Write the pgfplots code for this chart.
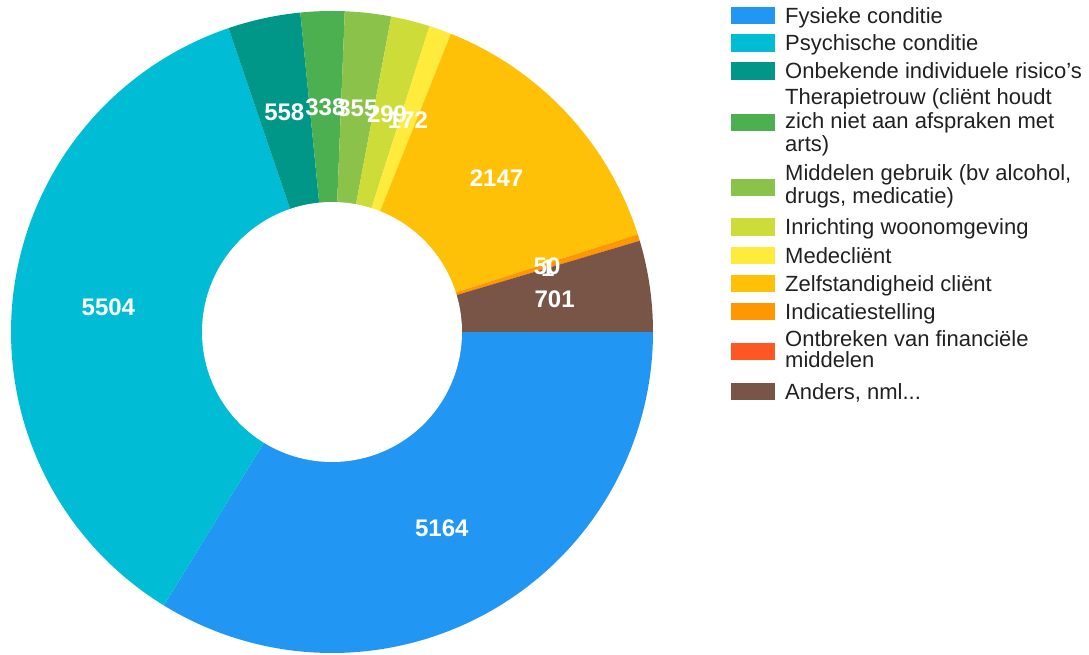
\documentclass[border=0pt]{standalone}
\usepackage{pgfplots}
\pgfplotsset{compat=1.18}
\usepackage{pgfplotstable}
\usepackage{fontspec}
\setmainfont{Liberation Sans}

\definecolor{c0}{HTML}{2196F3}
\definecolor{c1}{HTML}{00BCD4}
\definecolor{c2}{HTML}{009688}
\definecolor{c3}{HTML}{4CAF50}
\definecolor{c4}{HTML}{8BC34A}
\definecolor{c5}{HTML}{CDDC39}
\definecolor{c6}{HTML}{FFEB3B}
\definecolor{c7}{HTML}{FFC107}
\definecolor{c8}{HTML}{FF9800}
\definecolor{c9}{HTML}{FF5722}
\definecolor{c10}{HTML}{795548}
\definecolor{legtext}{HTML}{212121}

\pgfplotstableread[col sep=semicolon]{
name;value
Fysieke conditie;5164
Psychische conditie;5504
Onbekende individuele risicos;558
Therapietrouw;338
Middelen gebruik;355
Inrichting woonomgeving;299
Medeclient;172
Zelfstandigheid client;2147
Indicatiestelling;50
Ontbreken van financiele middelen;1
Anders;701
}\slices

% total of all values
\xdef\cum{0}%
\pgfplotstableforeachcolumnelement{value}\of\slices\as\v{%
  \pgfmathsetmacro\tmp{\cum+\v}\xdef\cum{\tmp}}%
\xdef\total{\cum}%
% angles of each slice (clockwise from 3 o'clock)
\xdef\cum{0}%
\pgfplotstableforeachcolumnelement{value}\of\slices\as\v{%
  \pgfmathsetmacro\ta{-(\cum+\v)/\total*360}%
  \pgfmathsetmacro\tb{-\cum/\total*360}%
  \pgfmathsetmacro\tm{(\ta+\tb)/2}%
  \expandafter\xdef\csname lo\pgfplotstablerow\endcsname{\ta}%
  \expandafter\xdef\csname hi\pgfplotstablerow\endcsname{\tb}%
  \expandafter\xdef\csname mid\pgfplotstablerow\endcsname{\tm}%
  \expandafter\xdef\csname val\pgfplotstablerow\endcsname{\v}%
  \pgfmathsetmacro\tmp{\cum+\v}\xdef\cum{\tmp}}%

\newcommand\legsq[2]{\fill[#1] (axis cs:731,{646.3-#2}) rectangle (axis cs:775,{663.7-#2});}
\newcommand\legtxt[2]{\node[anchor=base west, inner sep=0pt, text=legtext,
  font=\fontsize{22bp}{26bp}\selectfont] at (axis cs:785,{655-#1}) {#2};}

\begin{document}
\begin{tikzpicture}
\begin{axis}[name=ax, x=1bp, y=1bp, xmin=0, xmax=1089, ymin=0, ymax=655,
  hide axis, clip=false, anchor=south west, at={(0,0)}]
\pgfplotsinvokeforeach{0,...,10}{
  \addplot[fill=c#1, draw=none, domain=\csname lo#1\endcsname:\csname hi#1\endcsname,
    samples=120, variable=\t] ({332+321*cos(\t)},{323+321*sin(\t)}) -- (axis cs:332,323) -- cycle;
}
\addplot[fill=white, draw=none, domain=0:360, samples=200, variable=\t]
  ({332+130*cos(\t)},{323+130*sin(\t)}) -- cycle;
\pgfplotsinvokeforeach{0,...,10}{
  \node[text=white, inner sep=0pt, font=\bfseries\fontsize{24bp}{28bp}\selectfont]
    at (axis cs:{332+225*cos(\csname mid#1\endcsname)},{323+225*sin(\csname mid#1\endcsname)})
    {\csname val#1\endcsname};
}
% legend
\legsq{c0}{15.3}\legtxt{23.1}{Fysieke conditie}
\legsq{c1}{43}\legtxt{50.8}{Psychische conditie}
\legsq{c2}{71}\legtxt{78.8}{Onbekende individuele risico's}
\legsq{c3}{122.8}\legtxt{105}{Therapietrouw (cliënt houdt}
  \legtxt{128.5}{zich niet aan afspraken met}\legtxt{152}{arts)}
\legsq{c4}{187.5}\legtxt{181}{Middelen gebruik (bv alcohol,}
  \legtxt{203.5}{drugs, medicatie)}
\legsq{c5}{227}\legtxt{234.8}{Inrichting woonomgeving}
\legsq{c6}{255.3}\legtxt{263.1}{Medecliënt}
\legsq{c7}{283.7}\legtxt{291.5}{Zelfstandigheid cliënt}
\legsq{c8}{311.3}\legtxt{319.1}{Indicatiestelling}
\legsq{c9}{351.3}\legtxt{346.7}{Ontbreken van financiële}
  \legtxt{368}{middelen}
\legsq{c10}{391.3}\legtxt{399.3}{Anders, nml...}
\end{axis}
\pgfresetboundingbox
\path[use as bounding box] (ax.south west) rectangle (ax.north east);
\end{tikzpicture}
\end{document}
